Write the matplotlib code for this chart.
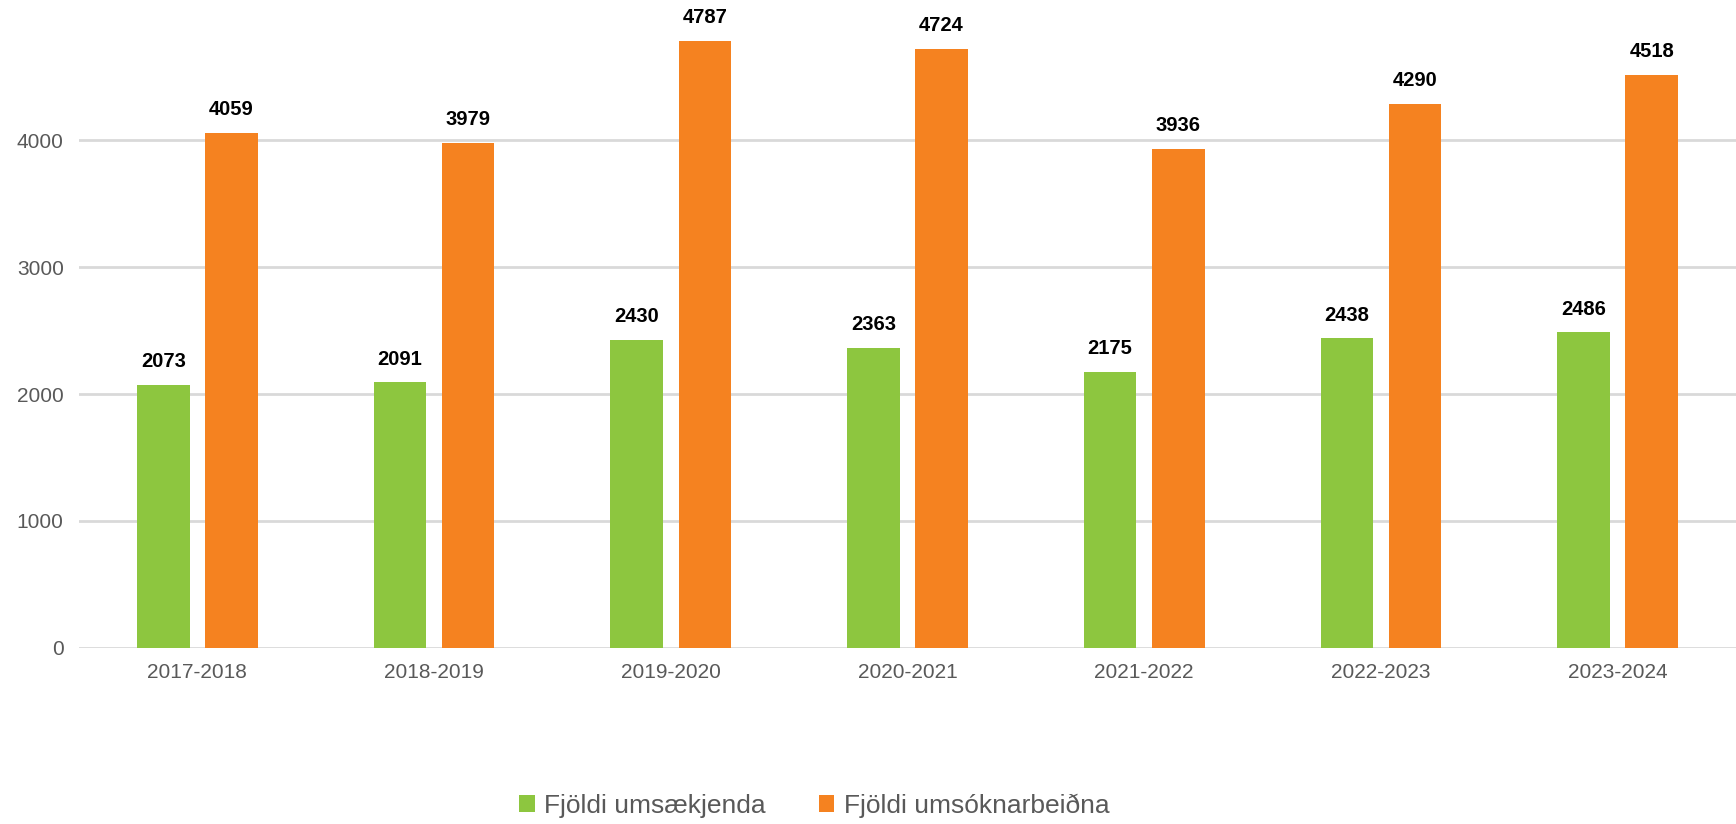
import matplotlib
matplotlib.use("Agg")
from matplotlib import pyplot as plt
import numpy as np

years = ["2017-2018", "2018-2019", "2019-2020", "2020-2021",
         "2021-2022", "2022-2023", "2023-2024"]
umsaekjendur = [2073, 2091, 2430, 2363, 2175, 2438, 2486]
umsoknir = [4059, 3979, 4787, 4724, 3936, 4290, 4518]
series_names = ["Fjöldi umsækjenda", "Fjöldi umsóknarbeiðna"]
yticks = [0, 1000, 2000, 3000, 4000]

GREEN = "#8DC63F"
ORANGE = "#F58220"
GREY_TXT = "#595959"

plt.rcParams['font.family'] = ['Liberation Sans', 'DejaVu Sans']

fig = plt.figure(figsize=(17.36, 8.24), dpi=100, facecolor='w')
ax = fig.add_axes([0.0455, 0.214, 0.9545, 0.7695])

x = np.arange(len(years))
w = 0.222
off = 0.144
b1 = ax.bar(x - off, umsaekjendur, w, color=GREEN, label=series_names[0], zorder=3)
b2 = ax.bar(x + off, umsoknir, w, color=ORANGE, label=series_names[1], zorder=3)

# value labels above every bar
for bars in (b1, b2):
    for rect in bars:
        h = rect.get_height()
        ax.annotate("{}".format(int(h)),
                    xy=(rect.get_x() + rect.get_width() / 2, h),
                    xytext=(0, 10), textcoords='offset points',
                    ha='center', va='bottom', fontsize=14.5,
                    fontweight='bold', color='black')

ax.set_xlim(-0.5, 6.5)
ax.set_ylim(0, 5000)
ax.set_yticks(yticks)
ax.set_yticklabels([str(t) for t in yticks])
ax.set_xticks(x)
ax.set_xticklabels(years)
ax.tick_params(axis='both', length=0, labelsize=15, colors=GREY_TXT)
ax.tick_params(axis='y', pad=11)
ax.tick_params(axis='x', pad=11)
ax.yaxis.grid(True, color='#D9D9D9', linewidth=2, zorder=0)
ax.set_axisbelow(True)
for s in ax.spines.values():
    s.set_visible(False)

leg = fig.legend(loc='center', bbox_to_anchor=(0.469, 0.022), ncol=2, frameon=False,
                 fontsize=19, handlelength=0.6, handleheight=0.6,
                 handletextpad=0.35, columnspacing=2.0)
for t in leg.get_texts():
    t.set_color(GREY_TXT)

plt.savefig("out.png", dpi=100)
